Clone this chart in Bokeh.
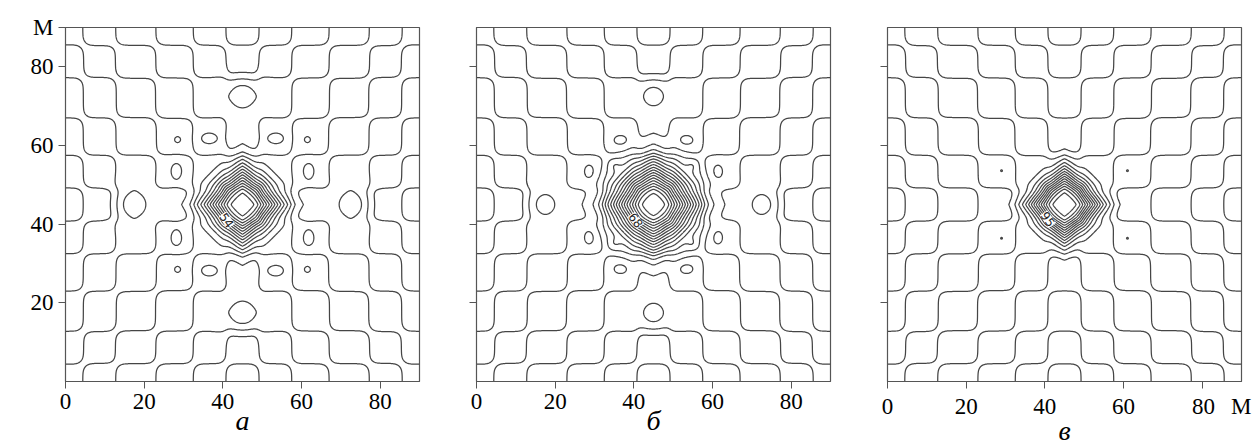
import numpy as np
from bokeh.plotting import figure
from bokeh.layouts import row
from bokeh.models import Range1d, FixedTicker
from bokeh.core.properties import value
from bokeh.embed import file_html
from bokeh.resources import INLINE

# ---- data ----
x_ticks = [0, 20, 40, 60, 80]
y_ticks = [20, 40, 60, 80]
unit_label = "M"
unit_pos_y = 90
panel_letters = ["а", "б", "в"]
peak_labels = ["54", "68", "95"]
centre = [45.0, 45.0]
# distance from the centre (m) of the terrace edges of the background
step_centres = [4.2, 12.5, 22.0, 32.2, 40.5]
step_width = 1.3
# central peak: height (in contour steps), size, shape
peak_height = [13.5, 16.5, 13.5]
peak_size = [9.4, 10.5, 8.8]
peak_shape_p = [1.15, 1.3, 1.15]
peak_shape_q = [2.4, 2.3, 2.6]
# side lobes (one octant, mirrored 8 ways): du, dv, amplitude, sx, sy
lobes_a = [(8.5, 16.8, -0.9, 1.8, 1.2), (16.5, 16.5, 0.85, 1.2, 1.2), (0.0, 27.5, 2.2, 3.3, 3.3)]
lobes_b = [(8.3, 16.3, -0.9, 1.7, 1.2), (10.0, 10.0, 0.9, 1.2, 1.2), (0.0, 27.5, 2.0, 3.1, 3.1)]
lobes_c = []
# tiny dots (4-fold): du, dv, amplitude, size
dots_c = [(16.0, 8.6, -0.56, 0.45)]
label_pos = [(41.0, 41.0), (40.5, 41.0), (40.8, 41.3)]
contour_step = 1.0

GRID = np.linspace(0, 90, 451)


def terraces(t):
    return sum(0.5 * (1 + np.tanh((np.abs(t) - s) / step_width)) for s in step_centres)


def mirrored(lobes):
    out = set()
    for du, dv, a, sx, sy in lobes:
        for su in (-1, 1):
            for sv in (-1, 1):
                out.add((su * du, sv * dv, a, sx, sy))
                out.add((sv * dv, su * du, a, sy, sx))
    return out


def field(i):
    lobes = [lobes_a, lobes_b, lobes_c][i]
    X, Y = np.meshgrid(GRID, GRID)
    u = X - centre[0]
    v = Y - centre[1]
    z = -np.sqrt((terraces(u) - terraces(v)) ** 2 + 0.04)
    p = peak_shape_p[i]
    rho = (np.abs(u) ** p + np.abs(v) ** p) ** (1.0 / p)
    z = z + peak_height[i] * np.exp(-(rho / peak_size[i]) ** peak_shape_q[i])
    for du, dv, a, sx, sy in mirrored(lobes):
        z = z + a * np.exp(-((u - du) ** 2 / (2 * sx ** 2) + (v - dv) ** 2 / (2 * sy ** 2)))
    if i == 2:
        for du, dv, a, s in dots_c:
            for su in (-1, 1):
                for sv in (-1, 1):
                    z = z + a * np.exp(-((u - su * du) ** 2 + (v - sv * dv) ** 2) / (2 * s ** 2))
    return z


SERIF = "Liberation Serif"
borders_left = [65, 40, 40]

figs = []
for i in range(3):
    p = figure(frame_width=354, frame_height=354, output_backend="svg", toolbar_location=None,
               x_range=Range1d(0, 90), y_range=Range1d(0, 90),
               min_border_left=borders_left[i], min_border_right=17,
               min_border_top=27, min_border_bottom=63)
    p.grid.visible = False
    p.outline_line_color = "#555555"
    p.outline_line_width = 1.2
    z = field(i)
    levels = list(np.arange(-5.5, 0, contour_step)) + list(np.arange(0.5, peak_height[i] + 1, contour_step))
    p.contour(GRID, GRID, z, levels, line_color="#454545", line_width=1.25)

    lx, ly = label_pos[i]
    p.text(x=[lx], y=[ly], text=[peak_labels[i]], angle=-0.95, text_font=value("DejaVu Sans"),
           text_font_size="12px", text_align="center", text_baseline="middle", text_color="#222222",
           background_fill_color="white")

    yt = list(y_ticks) + ([unit_pos_y] if i == 0 else [])
    p.xaxis.ticker = FixedTicker(ticks=list(x_ticks))
    p.yaxis.ticker = FixedTicker(ticks=yt)
    if i == 2:
        # the unit "M" is written after the last tick label, as in the reference
        last = x_ticks[-1]
        p.xaxis.major_label_overrides = {last: "\u2003\u2002\u2009" + str(last) + "\u2002\u2009" + unit_label}
    if i == 0:
        p.yaxis.major_label_overrides = {unit_pos_y: unit_label}
    for ax in (p.xaxis[0], p.yaxis[0]):
        ax.minor_tick_line_color = None
        ax.major_tick_out = 7
        ax.major_tick_in = 0
        ax.axis_line_color = "#555555"
        ax.major_tick_line_color = "#555555"
        ax.major_label_text_font = SERIF
        ax.major_label_text_font_size = "23px"
        ax.major_label_text_color = "black"
        ax.major_label_standoff = 5
    if i > 0:
        p.yaxis.major_label_text_color = None
    p.xaxis.axis_label = panel_letters[i]
    p.xaxis.axis_label_text_font = SERIF
    p.xaxis.axis_label_text_font_style = "italic"
    p.xaxis.axis_label_text_font_size = "28px"
    p.xaxis.axis_label_text_color = "black"
    p.xaxis.axis_label_standoff = -7
    figs.append(p)

layout = row(*figs, spacing=0)
open("out.html", "w").write(file_html(layout, INLINE))
